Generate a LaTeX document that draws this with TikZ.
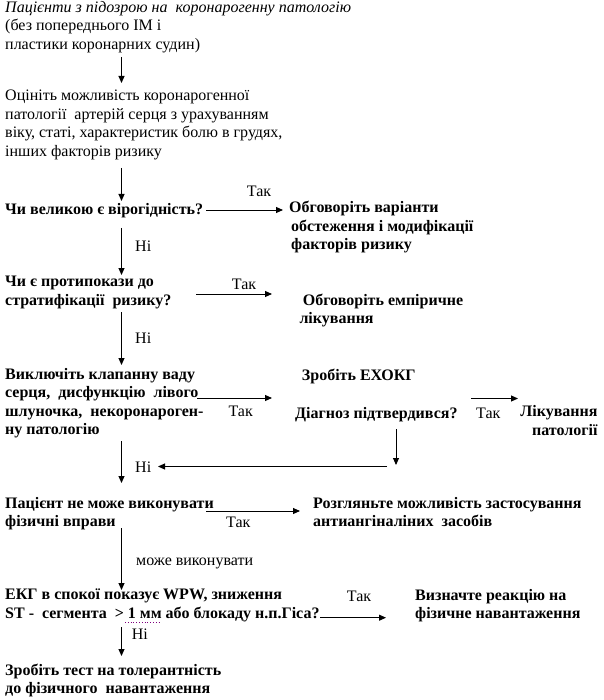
\documentclass[tikz,border=0pt]{standalone}
\usepackage{fontspec}
\setmainfont{Liberation Serif}
\usetikzlibrary{arrows.meta}

\begin{document}
\begin{tikzpicture}[x=1pt, y=-1pt,
      every node/.style={color=black, font=\fontsize{16}{18.5}\selectfont},
      txt/.style={anchor=north west, inner sep=0pt, align=left, yshift=12.95pt, execute at begin node=\strut},
      bold txt/.style={txt, font=\fontsize{16}{18.5}\selectfont\bfseries},
      flow/.style={-{Triangle[length=7pt,width=6pt]}, line width=0.9pt},
      spell line/.style={dotted, violet, line width=0.8pt}
      ]
      \useasboundingbox (0,0) rectangle (603,700);

      % boxes of text
      \node[txt] (start) at (5,14) {\textit{Пацієнти з підозрою на~ коронарогенну патологію}\\(без попереднього ІМ і\\пластики коронарних судин)};
      \node[txt] (assess) at (5,103) {Оцініть можливість коронарогенної\\патології~ артерій серця з урахуванням\\віку, статі, характеристик болю в грудях,\\інших факторів ризику};
      \node[bold txt] (high) at (5,214) {Чи великою є вірогідність?};
      \node[bold txt] (discuss) at (289,214) {Обговоріть варіанти\\\hspace*{2pt}обстеження і модифікації\\\hspace*{2pt}факторів ризику};
      \node[bold txt] (contra) at (5,289) {Чи є протипокази до\\стратифікації~ ризику?};
      \node[bold txt] (empiric) at (299.3,306.7) {\hspace*{3.4pt}Обговоріть емпіричне\\лікування};
      \node[bold txt] (exclude) at (5,381) {Виключіть клапанну ваду\\серця,~ дисфункцію~ лівого\\шлуночка,~ некоронароген-\\ну патологію};
      \node[bold txt] (echo) at (301.7,380.5) {Зробіть ЕХОКГ};
      \node[bold txt] (confirm) at (295,418.3) {Діагноз підтвердився?};
      \node[bold txt, anchor=north east, align=right] (treat) at (597.7,418.3) {Лікування\\патології};
      \node[bold txt] (noexer) at (5,510) {Пацієнт не може виконувати\\фізичні вправи};
      \node[bold txt] (antiang) at (313,510) {Розгляньте можливість застосування\\антиангіналіних~ засобів};
      \node[bold txt] (ecg) at (5,601.7) {ЕКГ в спокої показує WPW, зниження\\ST -~ сегмента~ > 1 мм або блокаду н.п.Гіса?};
      \node[bold txt] (react) at (415,602) {Визначте реакцію на\\фізичне навантаження};
      \node[bold txt] (test) at (5,676.7) {Зробіть тест на толерантність\\до фізичного~ навантаження};

      % answers
      \node[txt] (yesA) at (246.7,196.7) {Так};
      \node[txt] (noA) at (135,251.5) {Ні};
      \node[txt] (yesB) at (231.7,289) {Так};
      \node[txt] (noB) at (135,343) {Ні};
      \node[txt] (yesC) at (228.3,416.7) {Так};
      \node[txt] (yesD) at (476,418.3) {Так};
      \node[txt] (noC) at (135,472.7) {Ні};
      \node[txt] (yesE) at (226,527.3) {Так};
      \node[txt] (canexer) at (136,565) {може виконувати};
      \node[txt] (yesF) at (346.7,601.7) {Так};
      \node[txt] (noD) at (131.7,639) {Ні};

      % arrow ends
      \def\spine{121.5}
      \coordinate (s1) at (\spine,57);    \coordinate (e1) at (\spine,83);
      \coordinate (s2) at (\spine,168);   \coordinate (e2) at (\spine,201);
      \coordinate (s3) at (206,210);      \coordinate (e3) at (283,210);
      \coordinate (s4) at (\spine,228);   \coordinate (e4) at (\spine,275);
      \coordinate (s5) at (196,294);      \coordinate (e5) at (272,294);
      \coordinate (s6) at (\spine,312);   \coordinate (e6) at (\spine,365);
      \coordinate (s7) at (197,398);      \coordinate (e7) at (272,398);
      \coordinate (s8) at (471,398.5);    \coordinate (e8) at (518,398.5);
      \coordinate (s9) at (396,429);      \coordinate (e9) at (396,465);
      \coordinate (s10) at (387,466.5);   \coordinate (e10) at (158,466.5);
      \coordinate (s11) at (\spine,441);  \coordinate (e11) at (\spine,483);
      \coordinate (s12) at (206,511);     \coordinate (e12) at (300,511);
      \coordinate (s13) at (\spine,528);  \coordinate (e13) at (\spine,590);
      \coordinate (s14) at (320,617.7);   \coordinate (e14) at (386,617.7);
      \coordinate (s15) at (\spine,627);  \coordinate (e15) at (\spine,656);

      % arrows
      \foreach \i in {1,...,15}
        \draw[flow] (s\i) -- (e\i);

      % spell check mark
      \draw[spell line] (125,622.7) -- (159.3,622.7);
    \end{tikzpicture}
\end{document}
